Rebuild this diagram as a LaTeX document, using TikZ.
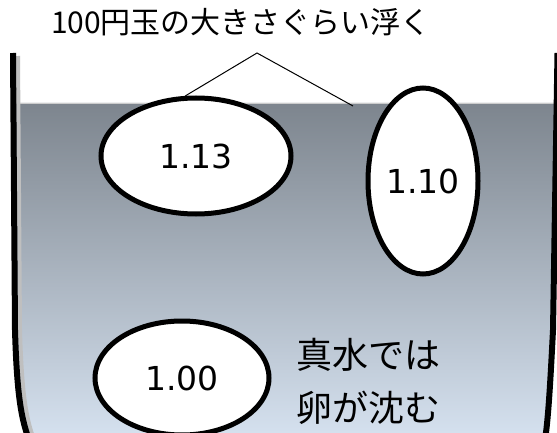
\documentclass[tikz,border=0pt]{standalone}
\usepackage{fontspec}
\setmainfont{Noto Sans CJK JP}
\newfontfamily\numfont{DejaVu Sans}
\usetikzlibrary{shapes.geometric}
\definecolor{watertop}{RGB}{125,133,142}
\definecolor{waterbot}{RGB}{214,226,240}
\begin{document}
\begin{tikzpicture}[x=1pt,y=-1pt,
 egg/.style={ellipse, draw=black, line width=5pt, fill=white, inner sep=0pt, font=\numfont\fontsize{33}{33}\selectfont},
 wall/.style={line width=6pt, line cap=butt},
 wallshadow/.style={line width=4pt, black!25, line cap=butt},
 lbl/.style={font=\fontsize{36}{36}\selectfont, anchor=west},
 callout/.style={line width=1pt}]
\useasboundingbox (0,0) rectangle (557,433);
\fill[white] (0,0) rectangle (557,433);
\begin{scope}
\clip (15,103) -- (15,330) .. controls (17,400) and (22,420) .. (30,440) -- (544,440) .. controls (548,400) .. (554,330) -- (557,103) -- cycle;
\shade[top color=watertop, bottom color=waterbot] (0,103) rectangle (557,440);
\end{scope}
\draw[gray!40, line width=1pt] (15,103.5) -- (557,103.5);
% walls
\draw[wallshadow] (18,56) -- (20,330) .. controls (22,400) and (27,420) .. (34,440);
\draw[wall] (13,53) -- (15,330) .. controls (17,400) and (22,420) .. (29,440);
\draw[wall] (557.5,53) -- (553,330) .. controls (550,390) and (548,420) .. (545,440);
% eggs
\node[egg, minimum width=190pt, minimum height=116pt] (e113) at (196,156) {1.13};
\node[egg, minimum width=110pt, minimum height=186pt] (e110) at (423,181) {1.10};
\node[egg, minimum width=174pt, minimum height=114pt] (e100) at (182,378) {1.00};
% labels
\node[lbl] (t1) at (293,355) {真水では};
\node[lbl] (t2) at (293,408) {卵が沈む};
\node[font=\fontsize{30}{30}\selectfont] (title) at (241,22) {100円玉の大きさぐらい浮く};
% callout
\coordinate (apex) at (257,53);
\coordinate (callR) at (353,106);
\draw[callout] (e113.100) -- (apex) -- (callR);
\end{tikzpicture}
\end{document}
